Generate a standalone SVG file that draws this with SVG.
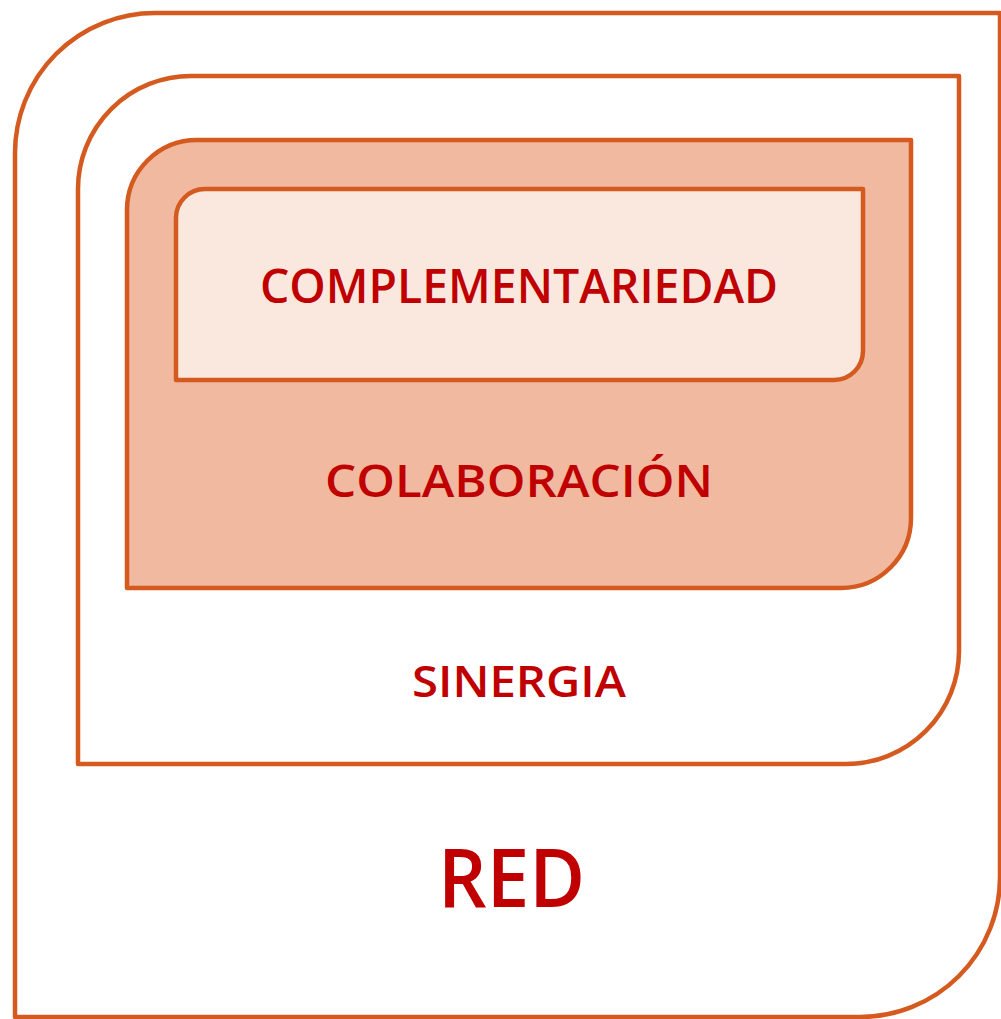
<svg xmlns="http://www.w3.org/2000/svg" width="1001" height="1019" viewBox="0 0 1001 1019">
<style>
.box{stroke:#D55A1F;stroke-width:4.5;stroke-linejoin:round}
.lbl{font-family:"Open Sans","Noto Sans","Liberation Sans",sans-serif;font-weight:600;fill:#C00000;text-anchor:middle}
</style>
<rect width="1001" height="1019" fill="#FFFFFF"/>
<g id="red">
<path class="box" fill="#FFFFFF" d="M15,153 A140,140 0 0 1 155,13 L1000,13 L1000,877 A140,140 0 0 1 860,1017 L15,1017 Z"/>
<text class="lbl" x="511.5" y="907" font-size="82" textLength="147" lengthAdjust="spacingAndGlyphs">RED</text>
</g>
<g id="sinergia">
<path class="box" fill="#FFFFFF" d="M78,189 A113,113 0 0 1 191,76 L959,76 L959,651 A113,113 0 0 1 846,764 L78,764 Z"/>
<text class="lbl" x="519" y="697" font-size="44" textLength="214" lengthAdjust="spacingAndGlyphs">SINERGIA</text>
</g>
<g id="colaboracion">
<path class="box" fill="#F0B9A0" d="M127,210 A70,70 0 0 1 197,140 L911,140 L911,518 A70,70 0 0 1 841,588 L127,588 Z"/>
<text class="lbl" x="519" y="497" font-size="45" textLength="388" lengthAdjust="spacingAndGlyphs">COLABORACIÓN</text>
</g>
<g id="complementariedad">
<path class="box" fill="#FAE8DF" d="M176,218 A29,29 0 0 1 205,189 L863,189 L863,351 A29,29 0 0 1 834,380 L176,380 Z"/>
<text class="lbl" x="519" y="303" font-size="47" textLength="518" lengthAdjust="spacingAndGlyphs">COMPLEMENTARIEDAD</text>
</g>
<g id="connectors"/>
</svg>
